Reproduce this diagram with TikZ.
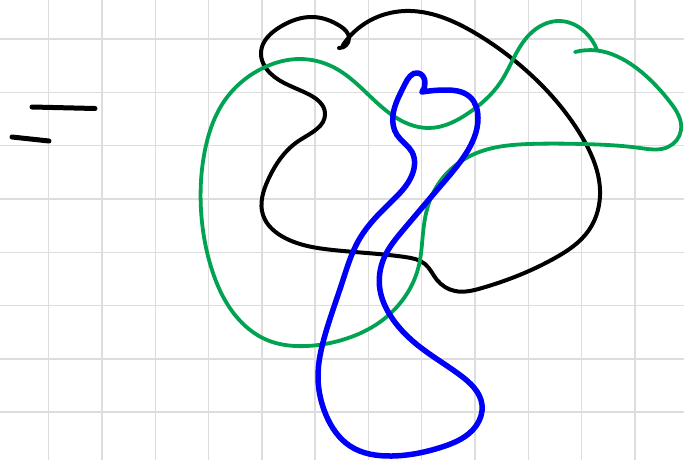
\documentclass[tikz,border=0pt]{standalone}
\usetikzlibrary{hobby}
\begin{document}
\begin{tikzpicture}[x=1pt,y=-1pt,
  gridline/.style={draw={rgb,255:red,221;green,221;blue,221},line width=1.4pt},
  ink/.style={line width=#1,line cap=round,line join=round,use Hobby shortcut},
  ink/.default=4pt]
\definecolor{penblack}{RGB}{0,0,0}
\definecolor{pengreen}{RGB}{0,163,82}
\definecolor{penblue}{RGB}{0,0,250}
\useasboundingbox (0,0) rectangle (684,460);
\fill[white] (0,0) rectangle (684,460);
% grid
\foreach \k in {0,...,11} { \draw[gridline] ({48.6+53.3*\k},0) -- ({48.6+53.3*\k},460); }
\foreach \k in {0,...,7} { \draw[gridline] (0,{39+53.3*\k}) -- (684,{39+53.3*\k}); }
% equals-like dashes
\draw[line width=5pt,line cap=round,penblack] (32,107) -- (95,108.5);
\draw[line width=5pt,line cap=round,penblack] (12,137) -- (49,141);
% black curve
\draw[ink=4pt,penblack] (343,45) .. (369,21) .. (405,11) .. (475,33) .. (529,73)
 .. (582,137) .. (600,190) .. (589,230) .. (555,258) .. (482,288) .. (455,291)
 .. (437,280) .. (425,264) .. (405,257) .. (333,250) .. (285,238) .. (263,215)
 .. (268,180) .. (300,140) .. (325,113) .. (310,95) .. (270,73) .. (261,52)
 .. (280,27) .. (313,17) .. (340,26) .. (349,38) .. (339,48);
% green curve
\draw[ink=3.8pt,pengreen] (575,52) .. (597,50.5) .. (635,67) .. (670,102) .. (681,130)
 .. (668,147) .. (640,148) .. (582,144) .. (529,144) .. (482,151) .. (450,170)
 .. (430,200) .. (423,233) .. (419,265) .. (408,292) .. (380,322) .. (342,340)
 .. (307,346) .. (267,340) .. (235,315) .. (212,270) .. (201,210) .. (205,150)
 .. (225,100) .. (263,68) .. (300,59) .. (335,68) .. (392,115) .. (429,128)
 .. (470,112) .. (500,83) .. (529,35) .. (560,21) .. (585,32) .. (597,50);
% blue curve
\draw[ink=5.5pt,penblue] (422,92) .. (425,82) .. (418,73) .. (405,84) .. (393,115)
 .. (397,135) .. (412,152) .. (412,175) .. (390,203) .. (360,238) .. (342,283)
 .. (325,335) .. (318,377) .. (326,415) .. (350,446) .. (392,456) .. (442,447)
 .. (476,426) .. (482,405) .. (460,375) .. (415,343) .. (390,315) .. (380,290)
 .. (384,258) .. (404,229) .. (443,183) .. (465,155) .. (478,118) .. (470,97)
 .. (445,90) .. (422,92);
\end{tikzpicture}
\end{document}
